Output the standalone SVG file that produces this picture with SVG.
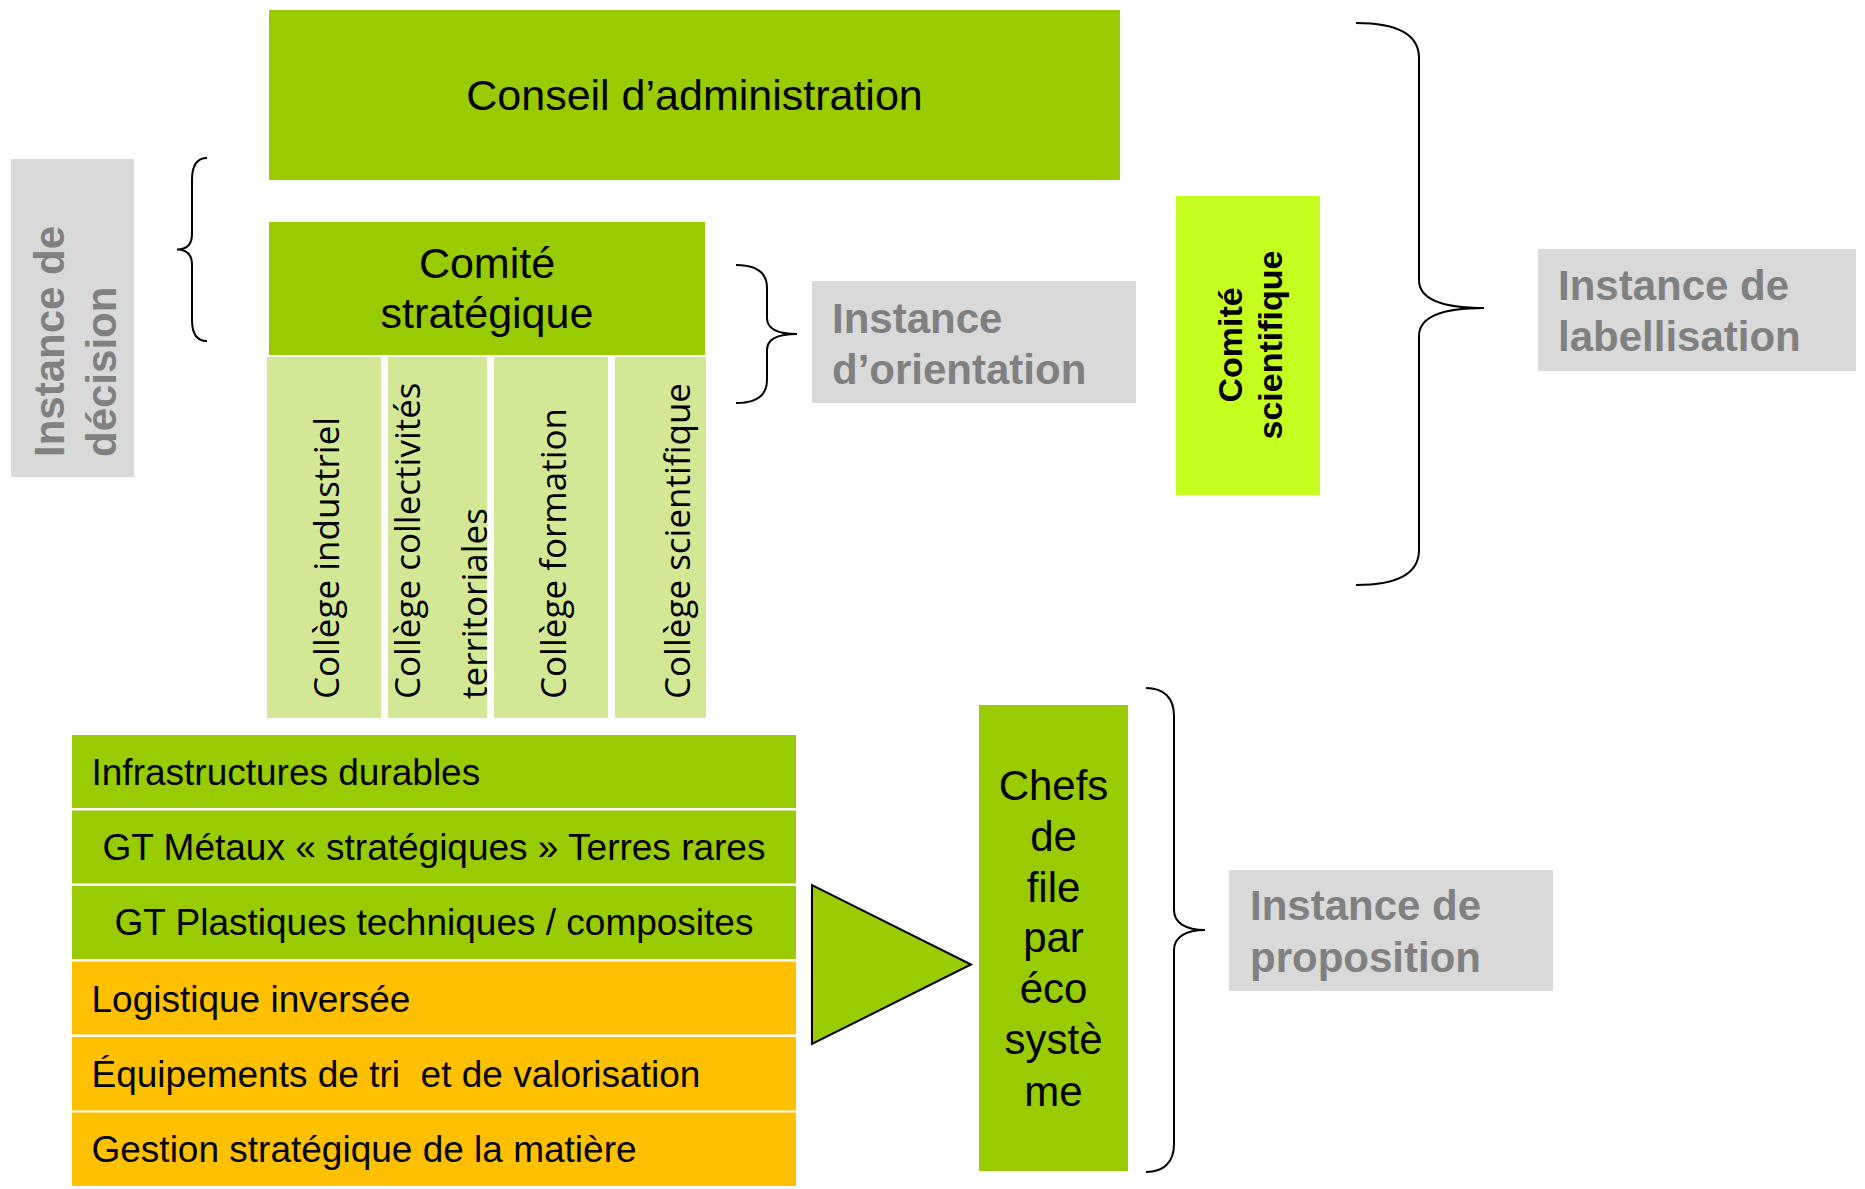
<svg xmlns="http://www.w3.org/2000/svg" width="1865" height="1189" viewBox="0 0 1865 1189">
<style>
  .green { fill: #99cc00; }
  .orange { fill: #ffc000; }
  .light { fill: #d3e894; }
  .lime { fill: #c5ff1f; }
  .label { fill: #d9d9d9; }
  .t { font-family: "Liberation Sans", Arial, sans-serif; fill: #000; }
  .lbl { font-family: "Liberation Sans", Arial, sans-serif; font-weight: bold; font-size: 42px; fill: #808080; }
  .col { font-family: "Open Sans", "Liberation Sans", sans-serif; font-size: 35px; fill: #000; }
  .brace { fill: none; stroke: #000; stroke-width: 2; }
  .row { font-size: 37px; }
</style>
<rect width="1865" height="1189" fill="#ffffff"/>

<g id="conseil">
  <rect class="green" x="269" y="10" width="851" height="170"/>
  <text class="t" x="694.5" y="110" font-size="43" text-anchor="middle">Conseil d’administration</text>
</g>

<g id="instance-decision">
  <rect class="label" x="11" y="159" width="123" height="318"/>
  <text class="lbl" transform="translate(64,457) rotate(-90)">Instance de</text>
  <text class="lbl" transform="translate(116,457) rotate(-90)">décision</text>
</g>

<g id="comite-strategique">
  <rect class="green" x="269" y="222" width="436" height="133"/>
  <text class="t" x="487" y="278" font-size="43" text-anchor="middle">Comité</text>
  <text class="t" x="487" y="328" font-size="43" text-anchor="middle">stratégique</text>
</g>

<g id="college-industriel">
  <rect class="light" x="267" y="357" width="114" height="361"/>
  <text class="col" transform="translate(339,699) rotate(-90)">Collège industriel</text>
</g>
<g id="college-collectivites">
  <rect class="light" x="388" y="357" width="99" height="361"/>
  <text class="col" transform="translate(420,699) rotate(-90)">Collège collectivités</text>
  <text class="col" transform="translate(487,699) rotate(-90)">territoriales</text>
</g>
<g id="college-formation">
  <rect class="light" x="494" y="357" width="114" height="361"/>
  <text class="col" transform="translate(566,699) rotate(-90)">Collège formation</text>
</g>
<g id="college-scientifique">
  <rect class="light" x="615" y="357" width="91" height="361"/>
  <text class="col" transform="translate(690,699) rotate(-90)">Collège scientifique</text>
</g>

<g id="instance-orientation">
  <rect class="label" x="812" y="281" width="324" height="122"/>
  <text class="lbl" x="832" y="333">Instance</text>
  <text class="lbl" x="832" y="384">d’orientation</text>
</g>

<g id="comite-scientifique">
  <rect class="lime" x="1176" y="196" width="144" height="299"/>
  <text class="t" font-size="34" font-weight="bold" text-anchor="middle" transform="translate(1242,345) rotate(-90)">Comité</text>
  <text class="t" font-size="34" font-weight="bold" text-anchor="middle" transform="translate(1282,345) rotate(-90)">scientifique</text>
</g>

<g id="instance-labellisation">
  <rect class="label" x="1538" y="249" width="318" height="122"/>
  <text class="lbl" x="1558" y="300">Instance de</text>
  <text class="lbl" x="1558" y="351">labellisation</text>
</g>

<g id="groupes-travail">
  <g id="gt-infrastructures">
    <rect class="green" x="72" y="735" width="724" height="73"/>
    <text class="t row" x="91.5" y="785">Infrastructures durables</text>
  </g>
  <g id="gt-metaux">
    <rect class="green" x="72" y="810.5" width="724" height="73"/>
    <text class="t row" x="434" y="860" text-anchor="middle">GT Métaux « stratégiques » Terres rares</text>
  </g>
  <g id="gt-plastiques">
    <rect class="green" x="72" y="886" width="724" height="73"/>
    <text class="t row" x="434" y="935" text-anchor="middle">GT Plastiques techniques / composites</text>
  </g>
  <g id="gt-logistique">
    <rect class="orange" x="72" y="961.5" width="724" height="73"/>
    <text class="t row" x="91.5" y="1011.5">Logistique inversée</text>
  </g>
  <g id="gt-equipements">
    <rect class="orange" x="72" y="1037" width="724" height="73.5"/>
    <text class="t row" x="91.5" y="1086.5" xml:space="preserve">Équipements de tri  et de valorisation</text>
  </g>
  <g id="gt-gestion">
    <rect class="orange" x="72" y="1112.5" width="724" height="73.5"/>
    <text class="t row" x="91.5" y="1161.5">Gestion stratégique de la matière</text>
  </g>
</g>

<g id="chefs-de-file">
  <rect class="green" x="979" y="705" width="149" height="466"/>
  <g class="t" font-size="42" text-anchor="middle">
    <text x="1053.5" y="800">Chefs</text>
    <text x="1053.5" y="851">de</text>
    <text x="1053.5" y="902">file</text>
    <text x="1053.5" y="952">par</text>
    <text x="1053.5" y="1003">éco</text>
    <text x="1053.5" y="1054">systè</text>
    <text x="1053.5" y="1106">me</text>
  </g>
</g>

<g id="instance-proposition">
  <rect class="label" x="1229" y="870" width="324" height="121"/>
  <text class="lbl" x="1250" y="920">Instance de</text>
  <text class="lbl" x="1250" y="972">proposition</text>
</g>

<g id="connectors">
  <path class="brace" d="M207,158 C197,158 192,166 192,180 L192,234 C192,244 187,249.5 177,249.5 C187,249.5 192,255 192,265 L192,320 C192,334 197,341 207,341"/>
  <path class="brace" d="M736,265 C756,265 767,272 767,288 L767,318 C767,329 777,334 797,334 C777,334 767,339 767,350 L767,380 C767,396 756,403 736,403"/>
  <path class="brace" d="M1356,23 C1396,23 1419,34 1419,58 L1419,280 C1419,298 1440,308 1484,308 C1440,308 1419,318 1419,336 L1419,550 C1419,574 1396,585 1356,585"/>
  <path class="brace" d="M1146,688 C1164,688 1174,698 1174,716 L1174,910 C1174,923 1186,930 1205,930 C1186,930 1174,937 1174,950 L1174,1144 C1174,1162 1164,1172 1146,1172"/>
  <polygon points="812,885 812,1044 971,964.5" fill="#99cc00" stroke="#000" stroke-width="2" stroke-linejoin="miter"/>
</g>
</svg>
